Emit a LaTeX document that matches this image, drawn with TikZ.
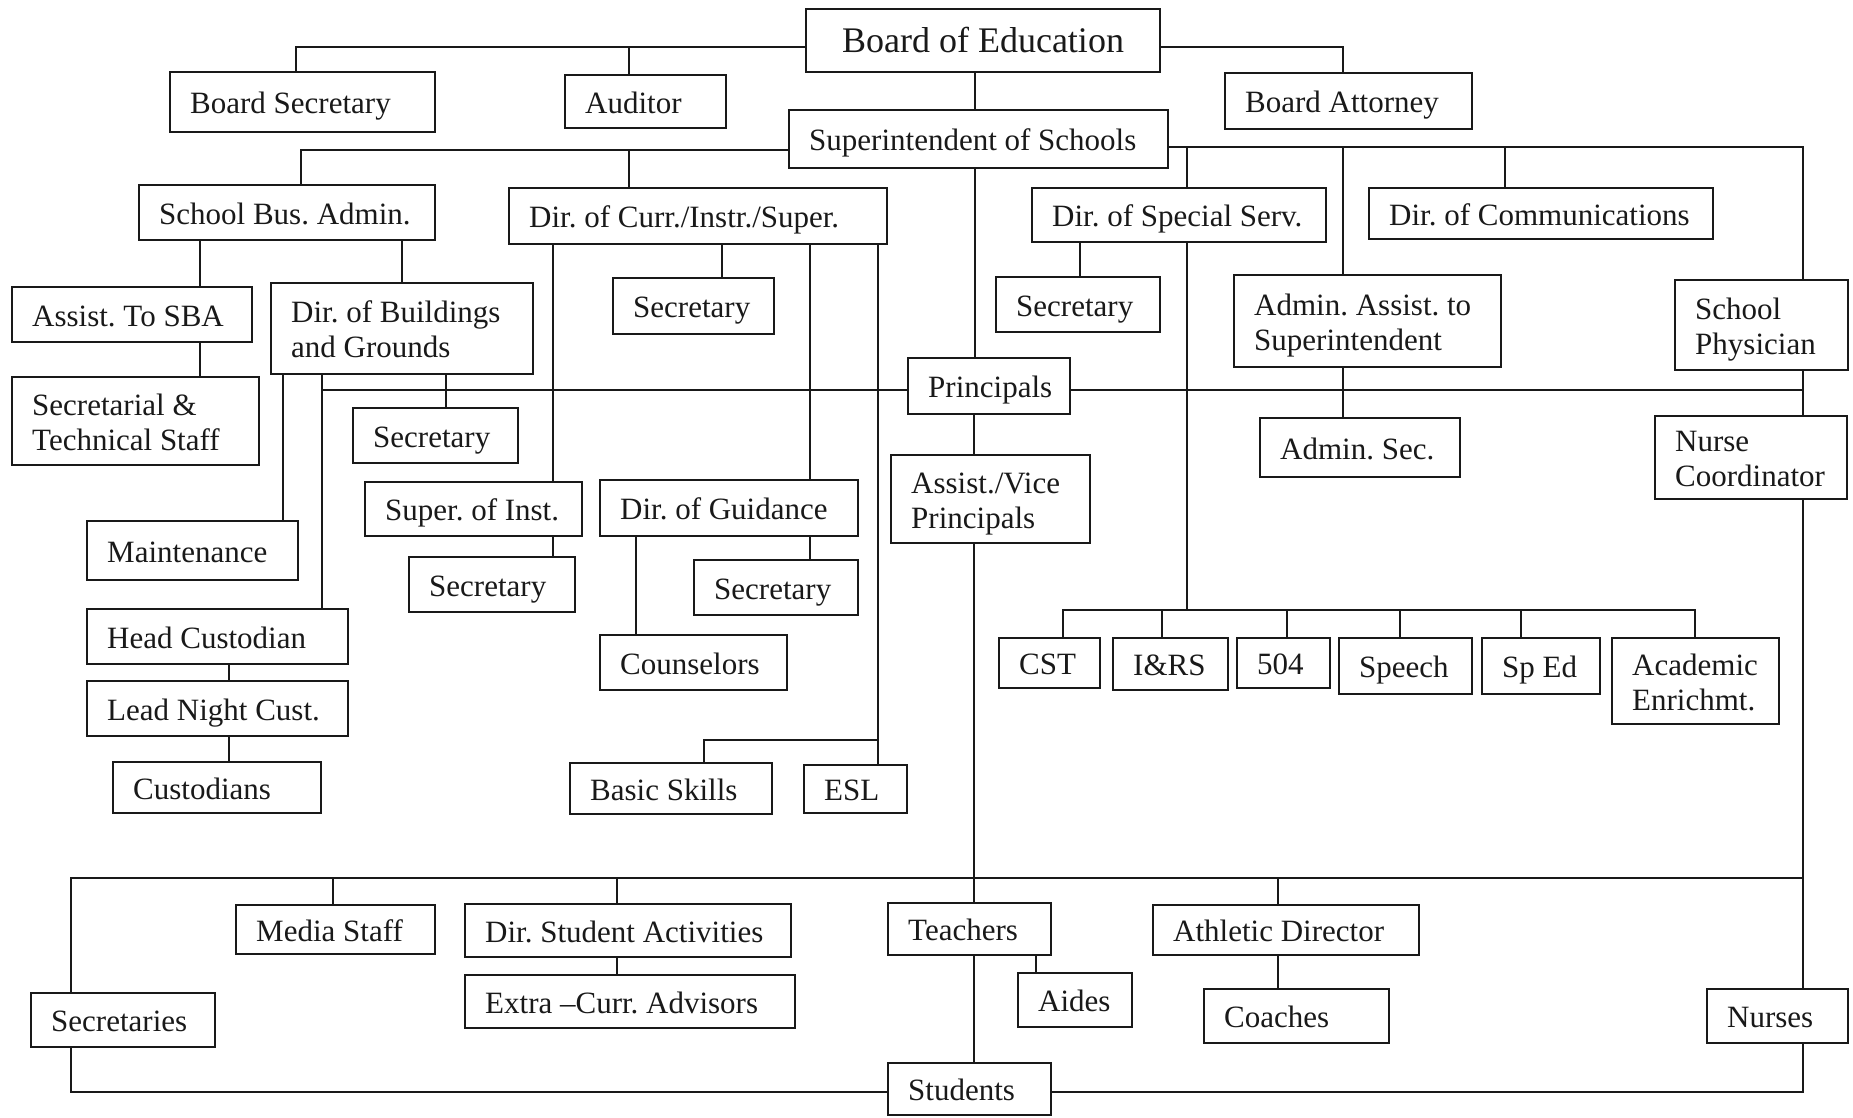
\documentclass[tikz,border=0pt]{standalone}
\usepackage{fontspec}
\setmainfont{Liberation Serif}
\frenchspacing
\tikzset{
  obx/.style={draw=black!90, line width=2.5pt, inner sep=0pt, outer sep=0pt, anchor=north west, fill=white},
  otx/.style={inner sep=0pt, align=left, anchor=west, text=black!90, font=\fontsize{31}{35}\selectfont\frenchspacing},
  cn/.style={draw=black!90, line width=2.5pt}
}
\newcommand\orgbox[6]{%
  \pgfmathsetmacro\obW{#4-#2}%
  \pgfmathsetmacro\obH{#5-#3}%
  \node[obx,minimum width=\obW pt,minimum height=\obH pt] (#1) at (#2,#3) {};%
  \node[otx] (#1-t) at ([xshift=20pt,yshift=-1.5pt]#1.west) {\rule{0pt}{28pt}#6\rule[-7.4pt]{0pt}{7.4pt}};%
}
\begin{document}
\begin{tikzpicture}[x=1pt,y=-1pt]
\useasboundingbox[fill=white] (0,0) rectangle (1853,1117);
% Board of Education
\node[obx,minimum width=354pt,minimum height=63pt] (boe) at (806,9) {};
\node[inner sep=0pt,text=black!90,font=\fontsize{36}{40}\selectfont] (boe-t) at (boe.center) {\rule{0pt}{32pt}Board of Education\rule[-8.2pt]{0pt}{8.2pt}};
\orgbox{bsec}{170}{72}{435}{132}{Board Secretary}
\orgbox{aud}{565}{75}{726}{128}{Auditor}
\orgbox{batt}{1225}{73}{1472}{129}{Board Attorney}
\orgbox{sup}{789}{110}{1168}{168}{Superintendent of Schools}
\orgbox{sba}{139}{185}{435}{240}{School Bus. Admin.}
\orgbox{dci}{509}{188}{887}{244}{Dir. of Curr./Instr./Super.}
\orgbox{dss}{1032}{188}{1326}{242}{Dir. of Special Serv.}
\orgbox{dcom}{1369}{188}{1713}{239}{Dir. of Communications}
\orgbox{asba}{12}{287}{252}{342}{Assist. To SBA}
\orgbox{dbg}{271}{283}{533}{374}{Dir. of Buildings\\and Grounds}
\orgbox{seca}{613}{278}{774}{334}{Secretary}
\orgbox{secb}{996}{277}{1160}{332}{Secretary}
\orgbox{aas}{1234}{275}{1501}{367}{Admin. Assist. to\\Superintendent}
\orgbox{phys}{1675}{280}{1848}{370}{School\\Physician}
\orgbox{stech}{12}{377}{259}{465}{Secretarial \&\\Technical Staff}
\orgbox{prin}{908}{358}{1070}{414}{Principals}
\orgbox{secc}{353}{408}{518}{463}{Secretary}
\orgbox{asec}{1260}{418}{1460}{477}{Admin. Sec.}
\orgbox{nurc}{1655}{416}{1847}{499}{Nurse\\Coordinator}
\orgbox{avp}{891}{455}{1090}{543}{Assist./Vice\\Principals}
\orgbox{soi}{365}{482}{582}{536}{Super. of Inst.}
\orgbox{dgu}{600}{480}{858}{536}{Dir. of Guidance}
\orgbox{maint}{87}{521}{298}{580}{Maintenance}
\orgbox{secd}{409}{557}{575}{612}{Secretary}
\orgbox{sece}{694}{560}{858}{615}{Secretary}
\orgbox{hcust}{87}{609}{348}{664}{Head Custodian}
\orgbox{couns}{600}{635}{787}{690}{Counselors}
\orgbox{cst}{999}{638}{1100}{688}{CST}
\orgbox{irs}{1113}{638}{1228}{690}{I\&RS}
\orgbox{fzf}{1237}{638}{1330}{688}{504}
\orgbox{speech}{1339}{638}{1472}{694}{Speech}
\orgbox{sped}{1482}{638}{1600}{694}{Sp Ed}
\orgbox{acad}{1612}{638}{1779}{724}{Academic\\Enrichmt.}
\orgbox{lnc}{87}{681}{348}{736}{Lead Night Cust.}
\orgbox{cust}{113}{762}{321}{813}{Custodians}
\orgbox{bsk}{570}{763}{772}{814}{Basic Skills}
\orgbox{esl}{804}{765}{907}{813}{ESL}
\orgbox{media}{236}{905}{435}{954}{Media Staff}
\orgbox{dsa}{465}{904}{791}{957}{Dir. Student Activities}
\orgbox{teach}{888}{903}{1051}{955}{Teachers}
\orgbox{athl}{1153}{905}{1419}{955}{Athletic Director}
\orgbox{eca}{465}{975}{795}{1028}{Extra –Curr. Advisors}
\orgbox{aides}{1018}{973}{1132}{1027}{Aides}
\orgbox{coach}{1204}{989}{1389}{1043}{Coaches}
\orgbox{secs}{31}{993}{215}{1047}{Secretaries}
\orgbox{nurses}{1707}{989}{1848}{1043}{Nurses}
\orgbox{stud}{888}{1063}{1051}{1115}{Students}
% ---------- connectors ----------
\draw[cn] (boe.west |- 0,47) -| (bsec.north -| 296,0);
\coordinate (ja) at (629,47);
\draw[cn] (aud.north -| ja) -- (ja);
\draw[cn] (boe.east |- 0,47) -| (batt.north -| 1343,0);
\draw[cn] (boe.south -| 975,0) -- (sup.north -| 975,0);
\draw[cn] (sup.west |- 0,150) -| (sba.north -| 301,0);
\coordinate (jb) at (629,150);
\draw[cn] (dci.north -| jb) -- (jb);
\draw[cn] (sup.east |- 0,147) -| (phys.north -| 1803,0);
\coordinate (jc) at (1187,147); \draw[cn] (dss.north -| jc) -- (jc);
\coordinate (jd) at (1343,147); \draw[cn] (aas.north -| jd) -- (jd);
\coordinate (je) at (1505,147); \draw[cn] (dcom.north -| je) -- (je);
\draw[cn] (sup.south -| 975,0) -- (prin.north -| 975,0);
% principals bus
\coordinate (pl) at (322,390); \coordinate (pr) at (1803,390);
\draw[cn] (prin.west |- pl) -- (pl);
\draw[cn] (prin.east |- pr) -- (pr);
\draw[cn] (phys.south -| pr) -- (nurc.north -| pr);
\draw[cn] (prin.south -| 974,0) -- (avp.north -| 974,0);
\draw[cn] (avp.south -| 974,0) -- (teach.north -| 974,0);
\draw[cn] (aas.south -| jd) -- (asec.north -| jd);
% bottom loop
\coordinate (bl) at (71,878); \coordinate (br) at (1803,878);
\draw[cn] (secs.north -| bl) -- (bl) -- (br);
\draw[cn] (nurc.south -| br) -- (nurses.north -| br);
\coordinate (sl) at (71,1092); \coordinate (sr) at (1803,1092);
\draw[cn] (secs.south -| sl) -- (sl) -- (stud.west |- sl);
\draw[cn] (nurses.south -| sr) -- (sr) -- (stud.east |- sr);
\draw[cn] (media.north -| 333,0) -- (333,0 |- bl);
\draw[cn] (dsa.north -| 617,0) -- (617,0 |- bl);
\draw[cn] (athl.north -| 1278,0) -- (1278,0 |- bl);
\draw[cn] (dsa.south -| 617,0) -- (eca.north -| 617,0);
\draw[cn] (athl.south -| 1278,0) -- (coach.north -| 1278,0);
\draw[cn] (teach.south -| 974,0) -- (stud.north -| 974,0);
\draw[cn] (teach.south -| 1036,0) -- (aides.north -| 1036,0);
% school business administrator branch
\draw[cn] (sba.south -| 200,0) -- (asba.north -| 200,0);
\draw[cn] (sba.south -| 402,0) -- (dbg.north -| 402,0);
\draw[cn] (asba.south -| 200,0) -- (stech.north -| 200,0);
\draw[cn] (dbg.south -| 283,0) -- (maint.north -| 283,0);
\draw[cn] (dbg.south -| pl) -- (hcust.north -| pl);
\draw[cn] (dbg.south -| 446,0) -- (secc.north -| 446,0);
\draw[cn] (hcust.south -| 229,0) -- (lnc.north -| 229,0);
\draw[cn] (lnc.south -| 229,0) -- (cust.north -| 229,0);
% curriculum branch
\draw[cn] (dci.south -| 722,0) -- (seca.north -| 722,0);
\draw[cn] (dci.south -| 553,0) -- (soi.north -| 553,0);
\draw[cn] (soi.south -| 553,0) -- (secd.north -| 553,0);
\draw[cn] (dci.south -| 810,0) -- (dgu.north -| 810,0);
\draw[cn] (dgu.south -| 810,0) -- (sece.north -| 810,0);
\draw[cn] (dgu.south -| 636,0) -- (couns.north -| 636,0);
\draw[cn] (dci.south -| 878,0) -- (esl.north -| 878,0);
\coordinate (jf) at (878,740);
\draw[cn] (bsk.north -| 704,0) |- (jf);
% special services branch
\draw[cn] (dss.south -| 1080,0) -- (secb.north -| 1080,0);
\coordinate (jg) at (1187,610);
\draw[cn] (dss.south -| jg) -- (jg);
\draw[cn] (cst.north -| 1063,0) |- (jg) -| (acad.north -| 1695,0);
\draw[cn] (irs.north -| 1162,0) -- (1162,0 |- jg);
\draw[cn] (fzf.north -| 1287,0) -- (1287,0 |- jg);
\draw[cn] (speech.north -| 1400,0) -- (1400,0 |- jg);
\draw[cn] (sped.north -| 1521,0) -- (1521,0 |- jg);
\end{tikzpicture}
\end{document}
